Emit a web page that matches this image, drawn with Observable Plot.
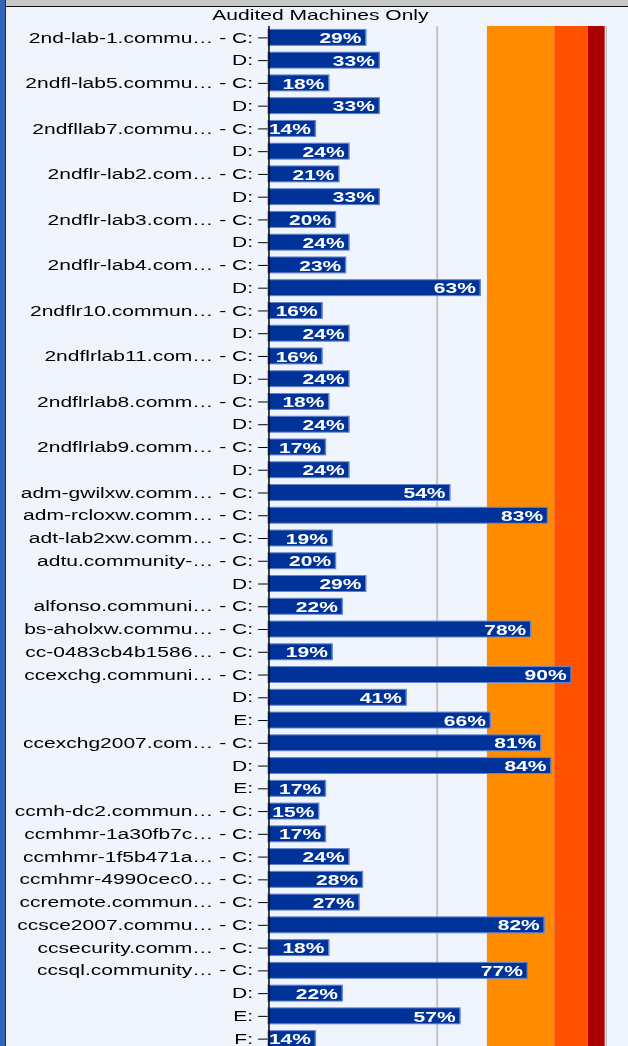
<!DOCTYPE html>
<html>
<head>
<meta charset="utf-8">
<script src="https://cdn.jsdelivr.net/npm/d3@7"></script>
<script src="https://cdn.jsdelivr.net/npm/@observablehq/plot@0.6"></script>
<style>
  html, body { margin: 0; padding: 0; }
  body { width: 628px; height: 1046px; overflow: hidden; background: #f0f4fc; position: relative; font-family: "Liberation Sans", Arial, sans-serif; }
  #topbar { position: absolute; left: 0; top: 0; width: 628px; height: 6px; background: #c8c8c8; border-bottom: 1px solid #111; }
  #leftbar { position: absolute; left: 0; top: 0; width: 5px; height: 1046px; background: #3466b8; border-right: 1.5px solid #1c2f5a; z-index: 2; }
  #wrap { position: absolute; left: 0; top: 7px; transform: scaleX(1.45); transform-origin: 0 0; }
  #title { width: 433px; height: 19px; text-align: center; font-size: 14.5px; line-height: 17px; color: #000; padding-left: 9px; box-sizing: border-box; }
</style>
</head>
<body>
<div id="topbar"></div>
<div id="leftbar"></div>
<div id="wrap">
  <div id="title">Audited Machines Only</div>
  <div id="chart"></div>
</div>
<script>
// Host names (empty = same machine as the row above)
const hosts = [
  "2nd-lab-1.commu…", "", "2ndfl-lab5.commu…", "", "2ndfllab7.commu…", "",
  "2ndflr-lab2.com…", "", "2ndflr-lab3.com…", "", "2ndflr-lab4.com…", "",
  "2ndflr10.commun…", "", "2ndflrlab11.com…", "", "2ndflrlab8.comm…", "",
  "2ndflrlab9.comm…", "",
  "adm-gwilxw.comm…", "adm-rcloxw.comm…", "adt-lab2xw.comm…", "adtu.community-…", "",
  "alfonso.communi…", "bs-aholxw.commu…", "cc-0483cb4b1586…", "ccexchg.communi…", "", "",
  "ccexchg2007.com…", "", "", "ccmh-dc2.commun…", "ccmhmr-1a30fb7c…", "ccmhmr-1f5b471a…",
  "ccmhmr-4990cec0…", "ccremote.commun…", "ccsce2007.commu…", "ccsecurity.comm…",
  "ccsql.community…", "", "", ""
];
const drives = [
  "C","D","C","D","C","D","C","D","C","D","C","D","C","D","C","D","C","D","C","D",
  "C","C","C","C","D","C","C","C","C","D","E","C","D","E","C","C","C","C","C","C","C","C","D","E","F"
];
const pct = [
  29,33,18,33,14,24,21,33,20,24,23,63,16,24,16,24,18,24,17,24,
  54,83,19,20,29,22,78,19,90,41,66,81,84,17,15,17,24,28,27,82,18,77,22,57,14
];
// Threshold bands (percent)
const bandStart = [65, 85, 95];
const bandEnd = [85, 95, 100];
const bandColor = ["#ff8c00", "#ff5200", "#aa0000"];
const gridLines = [50];

const rows = pct.map((v, i) => ({i, v, label: hosts[i] ? `${hosts[i]} - ${drives[i]}:` : `${drives[i]}:`}));
const bands = bandStart.map((s, k) => ({s, e: bandEnd[k], c: bandColor[k]}));

const chart = Plot.plot({
  width: 433,
  height: 1024,
  marginLeft: 185,
  marginRight: 16,
  marginTop: 0,
  marginBottom: 0,
  style: {background: "transparent", fontFamily: "'Liberation Sans', Arial, sans-serif", fontSize: "14.5px", color: "#000", overflow: "visible"},
  x: {domain: [0, 100], axis: null},
  y: {domain: rows.map(d => d.i), paddingInner: 0.3, paddingOuter: 0.15, round: false, tickSize: 7, tickPadding: 4, label: null, tickFormat: i => rows[i].label},
  color: {type: "identity"},
  marks: [
    Plot.rect(bands, {x1: "s", x2: "e", fill: "c"}),
    Plot.ruleX(gridLines, {stroke: "#c4c4c4", strokeWidth: 1.4}),
    Plot.ruleX([100], {stroke: "#b0b0b0", strokeWidth: 0.8, dx: 0.6}),
    Plot.barX(rows, {x: "v", y: "i", fill: "#003399", stroke: "#6586cc", strokeWidth: 1}),
    Plot.text(rows, {x: "v", y: "i", text: d => d.v + "%", textAnchor: "end", dx: -3.5, dy: 0.5, fill: "white", fontWeight: "bold", fontSize: 14.5}),
    Plot.ruleX([0], {stroke: "#000", strokeWidth: 1})
  ]
});
document.getElementById("chart").appendChild(chart);
</script>
</body>
</html>
